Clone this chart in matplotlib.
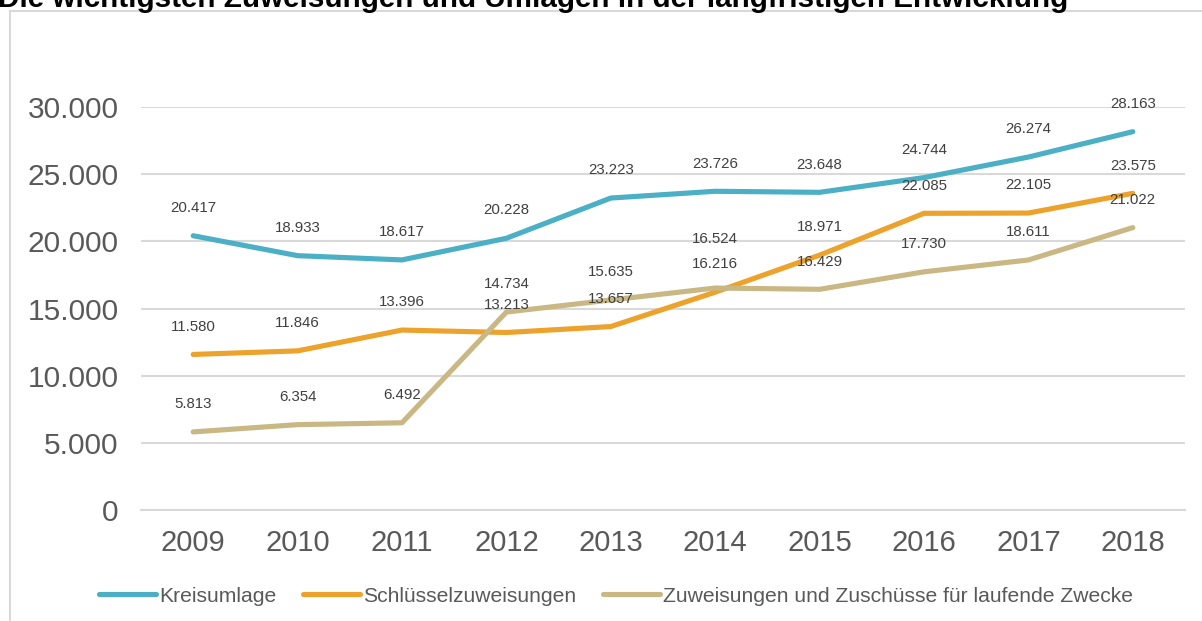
import matplotlib
matplotlib.use("Agg")
import matplotlib.pyplot as plt
from matplotlib.patches import Rectangle

jahre = ["2009", "2010", "2011", "2012", "2013", "2014", "2015", "2016", "2017", "2018"]
kreisumlage = [20417, 18933, 18617, 20228, 23223, 23726, 23648, 24744, 26274, 28163]
schluessel = [11580, 11846, 13396, 13213, 13657, 16216, 18971, 22085, 22105, 23575]
zuweisungen = [5813, 6354, 6492, 14734, 15635, 16524, 16429, 17730, 18611, 21022]

namen = ["Kreisumlage", "Schlüsselzuweisungen",
         "Zuweisungen und Zuschüsse für laufende Zwecke"]
farben = ["#4BAFC5", "#EDA22C", "#C9B784"]
titel = "Die wichtigsten Zuweisungen und Umlagen in der langfristigen Entwicklung"

plt.rcParams['font.family'] = ['Liberation Sans', 'DejaVu Sans']

fig = plt.figure(figsize=(12.02, 6.21), dpi=100)

# grauer Rahmen (rechts/unten ausserhalb des Bildes)
fig.patches.append(Rectangle((10 / 1202, -0.1), 1.2, 1 - 11 / 621 + 0.1,
                             transform=fig.transFigure, fill=False,
                             edgecolor="#D9D9D9", linewidth=1.5))

fig.text(-0.002, 1 - 7 / 621, titel, fontsize=21.3, fontweight="bold",
         color="black", va="baseline", ha="left")

ax = fig.add_axes([141 / 1202, 111 / 621, 1044 / 1202, 403 / 621])

x = list(range(len(jahre)))
reihen = [kreisumlage, schluessel, zuweisungen]
for k, (werte, name, farbe) in enumerate(zip(reihen, namen, farben)):
    ax.plot(x, werte, color=farbe, linewidth=3.7, label=name,
            solid_capstyle="round", solid_joinstyle="round", zorder=3)
    for xi, w in zip(x, werte):
        txt = f"{w:,}".replace(",", ".")
        dy = 20
        # Excel schiebt das Label 2014 der dritten Reihe nach oben
        if k == 2 and xi == 5:
            dy = 35
        ax.annotate(txt, (xi, w), xytext=(0, dy), textcoords="offset points",
                    ha="center", va="center", fontsize=10.8, color="#404040",
                    zorder=4)

ax.set_xlim(-0.5, len(jahre) - 0.5)
ax.set_ylim(0, 30000)
ax.set_xticks(x)
ax.set_xticklabels(jahre)
yt = list(range(0, 30001, 5000))
ax.set_yticks(yt)
ax.set_yticklabels([f"{v:,}".replace(",", ".") for v in yt])

ax.grid(axis="y", color="#D9D9D9", linewidth=1.5, zorder=0)
ax.set_axisbelow(True)
for s in ["top", "right", "left"]:
    ax.spines[s].set_visible(False)
ax.spines["bottom"].set_color("#D9D9D9")
ax.spines["bottom"].set_linewidth(1.5)
ax.tick_params(axis="both", length=0, colors="#595959")
ax.tick_params(axis="x", labelsize=21, pad=14)
ax.tick_params(axis="y", labelsize=21.5, pad=16)

fig.legend(loc="center", bbox_to_anchor=(616 / 1202, 1 - 596 / 621), ncol=3,
           frameon=False, fontsize=15.2, labelcolor="#595959",
           handlelength=2.7, handletextpad=0.15, columnspacing=1.25)

fig.savefig("out.png", dpi=100)
